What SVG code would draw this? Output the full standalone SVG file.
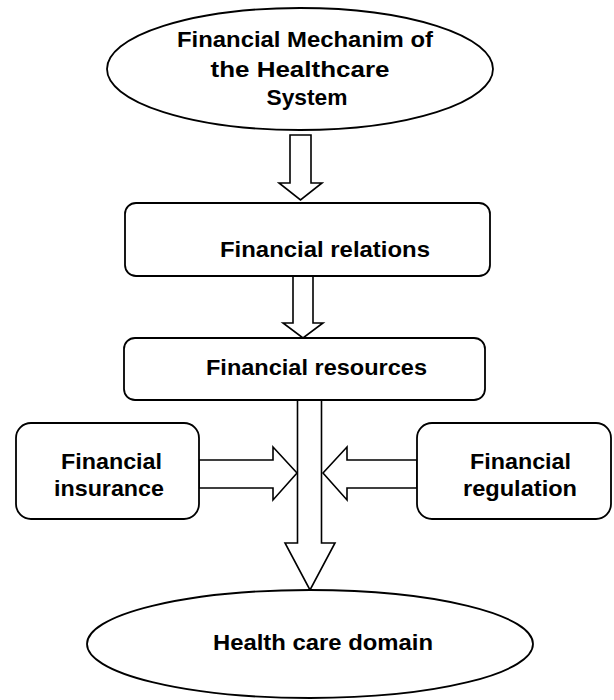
<svg xmlns="http://www.w3.org/2000/svg" width="614" height="700" viewBox="0 0 614 700">
<style>
.shape{fill:#fff;stroke:#000;stroke-width:1.8}
.arrow{fill:#fff;stroke:#000;stroke-width:1.6;stroke-linejoin:miter}
text{font-family:"Liberation Sans",Arial,sans-serif;font-weight:bold;font-size:22px;fill:#000;text-anchor:middle}
</style>
<rect width="614" height="700" fill="#fff"/>
<g id="connectors">
<polygon class="arrow" points="290,135 311,135 311,183 322,183 300.5,200 279,183 290,183"/>
<polygon class="arrow" points="293,276 313,276 313,323 323,323 303,338 283,323 293,323"/>
<polygon class="arrow" points="297.5,400 321.5,400 321.5,543 335,543 310,590 285,543 297.5,543"/>
<polygon class="arrow" points="199,460 273,460 273,447 297,473 273,500 273,488 199,488"/>
<polygon class="arrow" points="417,460 347,460 347,447 323,473 347,500 347,488 417,488"/>
</g>
<g id="node-mechanism">
<ellipse class="shape" cx="300" cy="69" rx="193" ry="61"/>
<text x="305" y="47" textLength="256" lengthAdjust="spacingAndGlyphs">Financial Mechanim of</text>
<text x="300" y="77" textLength="179" lengthAdjust="spacingAndGlyphs">the Healthcare</text>
<text x="307" y="105" textLength="81" lengthAdjust="spacingAndGlyphs">System</text>
</g>
<g id="node-relations">
<rect class="shape" x="125" y="203" width="365" height="73" rx="11"/>
<text x="325" y="257" textLength="210" lengthAdjust="spacingAndGlyphs">Financial relations</text>
</g>
<g id="node-resources">
<rect class="shape" x="124" y="338" width="361" height="62" rx="11"/>
<text x="316.5" y="375" textLength="221" lengthAdjust="spacingAndGlyphs">Financial resources</text>
</g>
<g id="node-insurance">
<rect class="shape" x="16" y="423" width="183" height="96" rx="15"/>
<text x="111.5" y="469" textLength="101" lengthAdjust="spacingAndGlyphs">Financial</text>
<text x="109" y="496" textLength="110" lengthAdjust="spacingAndGlyphs">insurance</text>
</g>
<g id="node-regulation">
<rect class="shape" x="417" y="423" width="194" height="96" rx="15"/>
<text x="520.5" y="469" textLength="101" lengthAdjust="spacingAndGlyphs">Financial</text>
<text x="520" y="496" textLength="114" lengthAdjust="spacingAndGlyphs">regulation</text>
</g>
<g id="node-domain">
<ellipse class="shape" cx="310" cy="644" rx="223" ry="54"/>
<text x="323" y="650" textLength="220" lengthAdjust="spacingAndGlyphs">Health care domain</text>
</g>
</svg>
